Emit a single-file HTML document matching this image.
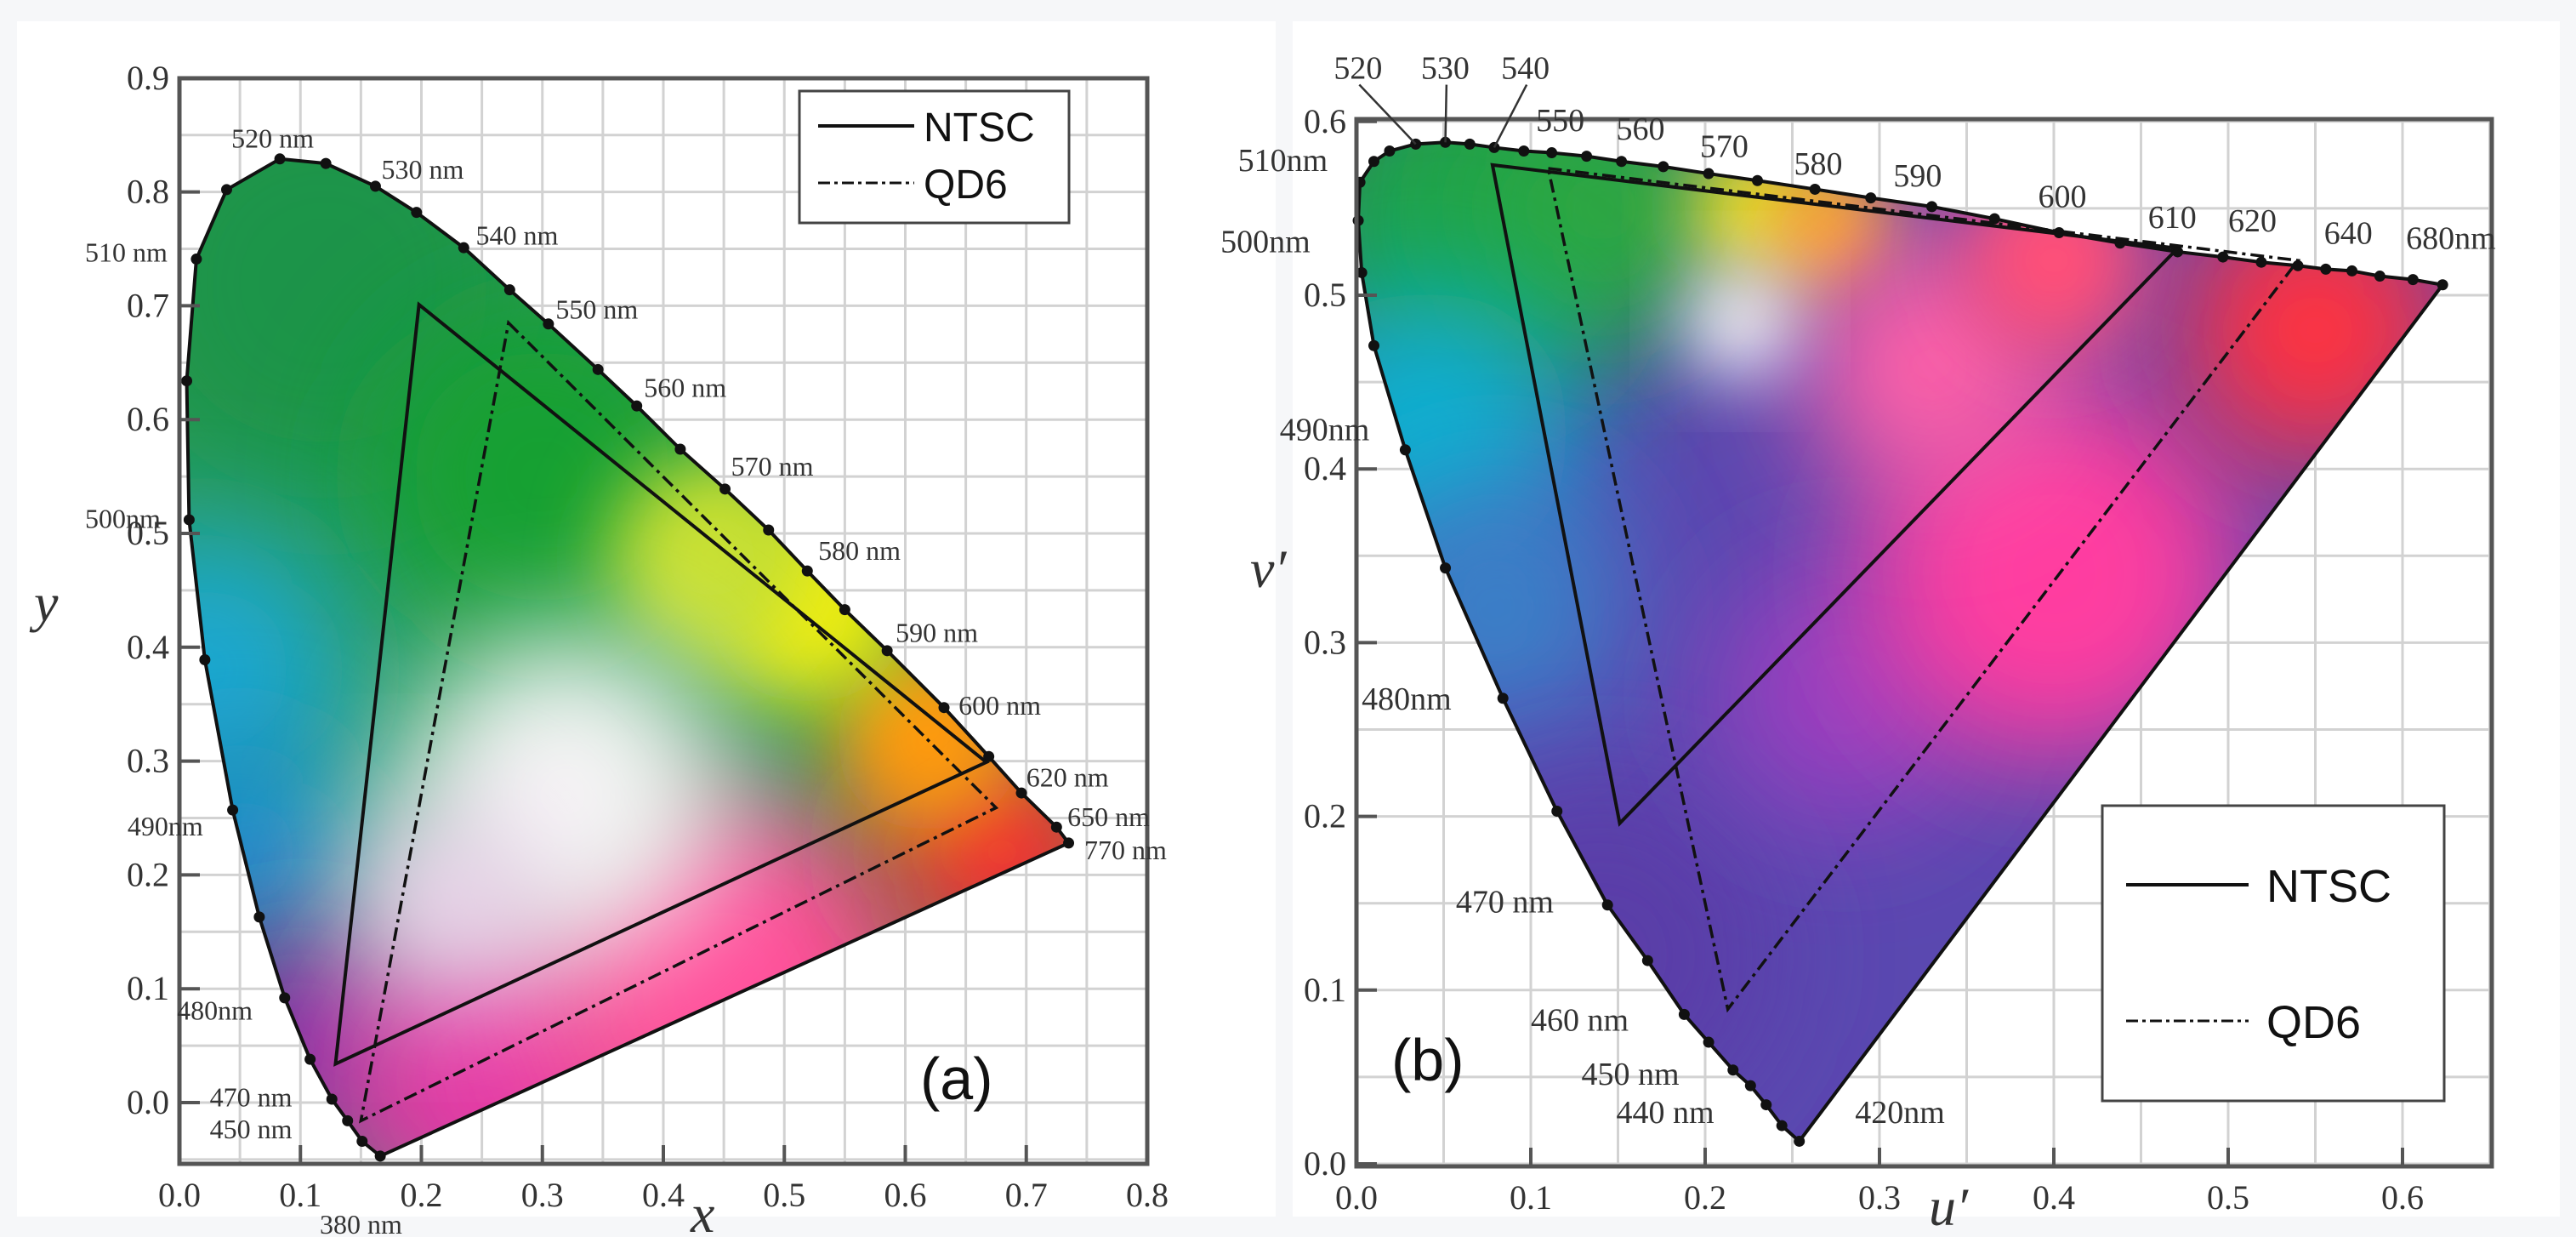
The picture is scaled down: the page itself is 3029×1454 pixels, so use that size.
<!DOCTYPE html>
<html><head><meta charset="utf-8">
<style>
html,body{margin:0;padding:0;background:#f6f7f9;overflow:hidden;}
svg{display:block;}
.t{font-family:"Liberation Serif",serif;fill:#333;}
.s{font-family:"Liberation Sans",sans-serif;fill:#111;}
</style></head>
<body>
<svg id="root" width="3029" height="1454" viewBox="0 0 3029 1454" xmlns="http://www.w3.org/2000/svg">
<defs>
<filter id="blur" x="-50%" y="-50%" width="200%" height="200%"><feGaussianBlur stdDeviation="70"/></filter>
<filter id="blur2" x="-50%" y="-50%" width="200%" height="200%"><feGaussianBlur stdDeviation="45"/></filter>
</defs>
<rect x="20" y="25" width="1480" height="1405" fill="#ffffff"/>
<rect x="1520" y="25" width="1490" height="1405" fill="#ffffff"/>
<g id="A"></g>
<g id="B"></g>
</svg>
<script>
// ---- Panel (a) data: CIE 1931 xy ----
const locusAx = [.166,.151,.139,.126,.108,.087,.066,.044,.021,.008,.006,.014,.039,.083,.121,.162,.196,.235,.273,.305,.346,.378,.414,.451,.487,.519,.550,.585,.632,.669,.696,.725,.735];
const locusAy = [-.047,-.034,-.016,.003,.038,.092,.163,.257,.389,.512,.634,.741,.802,.829,.825,.805,.782,.751,.714,.684,.644,.612,.574,.539,.503,.467,.433,.397,.347,.304,.272,.242,.228];
const ntscAx = [.198,.667,.129];
const ntscAy = [.701,.299,.034];
const qdAx = [.272,.675,.150];
const qdAy = [.685,.259,-.016];
const xTicksA = ["0.0","0.1","0.2","0.3","0.4","0.5","0.6","0.7","0.8"];
const yTicksA = ["0.0","0.1","0.2","0.3","0.4","0.5","0.6","0.7","0.8","0.9"];
const wlLabelsA = ["520 nm","530 nm","540 nm","550 nm","560 nm","570 nm","580 nm","590 nm","600 nm","620 nm","650 nm","770 nm","510 nm","500nm","490nm","480nm","470 nm","450 nm","380 nm"];
const wlLabelsAx = [.043,.167,.245,.311,.384,.456,.528,.592,.644,.700,.734,.748,-.078,-.078,-.043,-.002,.025,.025,.116];
const wlLabelsAy = [.847,.820,.762,.697,.628,.559,.485,.413,.349,.286,.251,.222,.747,.513,.243,.081,.005,-.023,-.107];

// ---- Panel (b) data: CIE 1976 u'v' ----
const locusBu = [.254,.244,.235,.226,.216,.202,.188,.167,.144,.115,.084,.051,.028,.010,.003,.001,.002,.010,.019,.034,.051,.065,.079,.096,.112,.132,.152,.176,.202,.230,.263,.295,.330,.366,.403,.438,.471,.497,.519,.540,.556,.571,.587,.606,.623];
const locusBv = [.013,.022,.034,.045,.054,.070,.086,.117,.149,.203,.268,.343,.411,.471,.513,.543,.565,.577,.583,.587,.588,.587,.585,.583,.582,.580,.577,.574,.570,.566,.561,.556,.551,.544,.536,.530,.525,.522,.519,.517,.515,.514,.511,.509,.506];
const ntscBu = [.078,.471,.151];
const ntscBv = [.575,.527,.196];
const qdBu = [.110,.540,.213];
const qdBv = [.573,.520,.089];
const uTicks = ["0.0","0.1","0.2","0.3","0.4","0.5","0.6"];
const vTicks = ["0.0","0.1","0.2","0.3","0.4","0.5","0.6"];
const wlLabelsB = ["520","530","540","550","560","570","580","590","600","610","620","640","680nm","510nm","500nm","490nm","480nm","470 nm","460 nm","450 nm","440 nm","420nm"];
const wlLabelsBu = [-.013,.037,.083,.103,.149,.197,.251,.308,.391,.454,.500,.555,.602,-.068,-.078,-.044,.003,.057,.100,.129,.149,.286];
const wlLabelsBv = [.630,.630,.630,.600,.595,.585,.575,.568,.556,.544,.542,.535,.532,.577,.530,.422,.267,.150,.082,.051,.029,.029];

const NS="http://www.w3.org/2000/svg";
function mk(parent,tag,attrs){const e=document.createElementNS(NS,tag);for(const k in attrs)e.setAttribute(k,attrs[k]);parent.appendChild(e);return e;}

const axA={x:v=>211+v*1422.5, y:v=>1296-v*1338, x0:211,x1:1349,y0:92,y1:1368};
const axB={x:v=>1595+v*2050, y:v=>1368-v*2042, x0:1595,x1:2930,y0:140,y1:1371};

function panel(g,ax,lx,ly,nx,ny,qx,qy,xt,yt,xstep,blobs,id){
  for(let v=0;v<=1.2;v+=0.05){const p=ax.x(v);if(p>ax.x0+2&&p<ax.x1-2){const l=mk(g,'line',{x1:p,y1:ax.y0,x2:p,y2:ax.y1,stroke:'#d2d2d2','stroke-width':3});
    
    }}
  for(let v=-0.1;v<=1;v+=0.05){const p=ax.y(v);if(p>ax.y0+2&&p<ax.y1-2){const l=mk(g,'line',{x1:ax.x0,y1:p,x2:ax.x1,y2:p,stroke:'#d2d2d2','stroke-width':3});
    
    }}
  const pts=lx.map((v,i)=>ax.x(v)+','+ax.y(ly[i])).join(' ');
  const cp=mk(g,'clipPath',{id:'clip'+id});mk(cp,'polygon',{points:pts});
  const fg=mk(g,'g',{'clip-path':'url(#clip'+id+')'});
  
  
  mk(fg,'rect',{x:ax.x0-200,y:ax.y0-200,width:ax.x1-ax.x0+400,height:ax.y1-ax.y0+400,fill:blobs.base});
  blobs.list.forEach(b=>mk(fg,'circle',{cx:ax.x(b[0]),cy:ax.y(b[1]),r:b[2],fill:b[3],filter:b[4]?'url(#blur2)':'url(#blur)'}));
  const loc=mk(g,'polygon',{points:pts,fill:'none',stroke:'#111','stroke-width':4,'stroke-linejoin':'round'});
  
  
  lx.forEach((v,i)=>{const d=mk(g,'circle',{cx:ax.x(v),cy:ax.y(ly[i]),r:6.5,fill:'#111'});
    
    });
  const n=mk(g,'polygon',{points:nx.map((v,i)=>ax.x(v)+','+ax.y(ny[i])).join(' '),fill:'none',stroke:'#111','stroke-width':4});
  
  
  const q=mk(g,'polygon',{points:qx.map((v,i)=>ax.x(v)+','+ax.y(qy[i])).join(' '),fill:'none',stroke:'#111','stroke-width':3.5,'stroke-dasharray':'16 6 4 6'});
  
  
  const fr=mk(g,'rect',{x:ax.x0,y:ax.y0,width:ax.x1-ax.x0,height:ax.y1-ax.y0,fill:'none',stroke:'#555','stroke-width':5});
  
  
  xt.forEach((s,i)=>{const p=ax.x(i*xstep);
    mk(g,'line',{x1:p,y1:ax.y1,x2:p,y2:ax.y1-22,stroke:'#555','stroke-width':4});
    const t=mk(g,'text',{x:p,y:ax.y1+50,'text-anchor':'middle','font-size':40,class:'t'});t.textContent=s;
    
    });
  yt.forEach((s,i)=>{const p=ax.y(i*0.1);
    mk(g,'line',{x1:ax.x0,y1:p,x2:ax.x0+24,y2:p,stroke:'#555','stroke-width':4});
    const t=mk(g,'text',{x:ax.x0-12,y:p+13,'text-anchor':'end','font-size':40,class:'t'});t.textContent=s;
    
    });
}

const A=document.getElementById('A'), B=document.getElementById('B');
panel(A,axA,locusAx,locusAy,ntscAx,ntscAy,qdAx,qdAy,xTicksA,yTicksA,0.1,{base:'#2b9a5a',list:[
  [.12,.72,260,'#1f9448'],[.30,.55,200,'#18a030'],[.02,.38,170,'#1aa8d0'],[.05,.22,140,'#1e8ed0'],
  [.10,.05,140,'#7a2aa8'],[.26,.02,200,'#e23aa6'],[.45,.10,230,'#ff4f9a'],[.68,.22,140,'#ff2a30'],
  [.62,.32,110,'#ff9a10',1],[.52,.44,120,'#f2ee10',1],[.44,.48,120,'#c8e030',1],[.32,.27,190,'#f4f4f4'],[.22,.18,120,'#f0d8f0']]},'A');
panel(B,axB,locusBu,locusBv,ntscBu,ntscBv,qdBu,qdBv,uTicks,vTicks,0.1,{base:'#5a48b0',list:[
  [.06,.54,220,'#1ba24a'],[.14,.55,150,'#2aa840'],[.23,.55,80,'#e8f020',1],[.27,.54,80,'#ffb020',1],
  [.04,.42,170,'#10b0d0'],[.08,.32,150,'#3a80c8'],[.14,.12,200,'#5a3ea8'],
  [.28,.27,150,'#9a40c0'],[.40,.34,220,'#ff3ca0'],[.33,.46,150,'#ff60a8'],[.55,.48,160,'#ff3040'],[.40,.52,110,'#ff5078',1],
  [.22,.485,65,'#ffffff',1]]},'B');

function labels(g,ax,arr,ux,uy,size){arr.forEach((s,i)=>{const t=mk(g,'text',{x:ax.x(ux[i]),y:ax.y(uy[i])+11,'font-size':size,class:'t'});t.textContent=s;
  
  });}
labels(A,axA,wlLabelsA,wlLabelsAx,wlLabelsAy,32);
labels(B,axB,wlLabelsB,wlLabelsBu,wlLabelsBv,38);
// leader lines for 520/530/540 in panel b
[[0,19],[1,20],[2,22]].forEach(p=>{const l=mk(B,'line',{x1:axB.x(wlLabelsBu[p[0]])+30,y1:axB.y(wlLabelsBv[p[0]])+18,x2:axB.x(locusBu[p[1]]),y2:axB.y(locusBv[p[1]]),stroke:'#333','stroke-width':2.5});
  
  });

function txt(g,x,y,s,size,cls,name,extra){const t=mk(g,'text',Object.assign({x:x,y:y,'font-size':size,class:cls},extra||{}));t.textContent=s;
  
  return t;}
txt(A,812,1448,'x',64,'t','x-axis-title',{'font-style':'italic'});
txt(A,40,730,'y',64,'t','y-axis-title',{'font-style':'italic'});
txt(B,2268,1440,"u′",64,'t','u-axis-title',{'font-style':'italic'});
txt(B,1470,690,"v′",64,'t','v-axis-title',{'font-style':'italic'});
txt(A,1082,1292,'(a)',70,'s','panel-label-a');
txt(B,1636,1270,'(b)',70,'s','panel-label-b');

const la=mk(A,'g',{});


mk(la,'rect',{x:940,y:107,width:317,height:155,fill:'#fff',stroke:'#444','stroke-width':3});
mk(la,'line',{x1:962,y1:148,x2:1075,y2:148,stroke:'#111','stroke-width':4});
txt(la,1086,166,'NTSC',48,'s','legend-entry-ntsc');
mk(la,'line',{x1:962,y1:215,x2:1075,y2:215,stroke:'#111','stroke-width':3,'stroke-dasharray':'14 5 4 5'});
txt(la,1086,233,'QD6',48,'s','legend-entry-qd6');
const lb=mk(B,'g',{});


mk(lb,'rect',{x:2472,y:947,width:402,height:347,fill:'#fff',stroke:'#444','stroke-width':3});
mk(lb,'line',{x1:2500,y1:1040,x2:2644,y2:1040,stroke:'#111','stroke-width':4});
txt(lb,2665,1060,'NTSC',54,'s','legend-entry-ntsc');
mk(lb,'line',{x1:2500,y1:1200,x2:2644,y2:1200,stroke:'#111','stroke-width':3,'stroke-dasharray':'14 5 4 5'});
txt(lb,2665,1220,'QD6',54,'s','legend-entry-qd6');
</script>
</body></html>
